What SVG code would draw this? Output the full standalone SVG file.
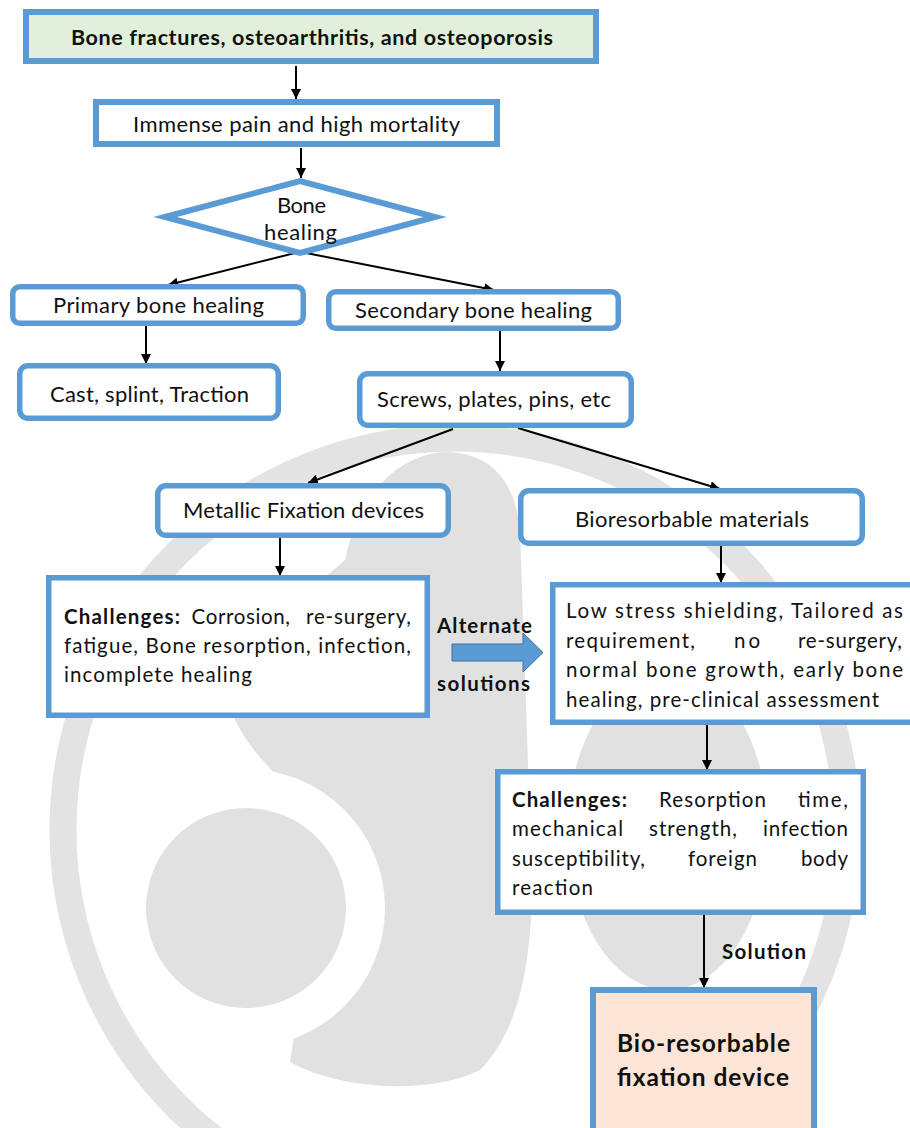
<svg xmlns="http://www.w3.org/2000/svg" width="910" height="1128" viewBox="0 0 910 1128">
<style>
.box{fill:#ffffff;stroke:#5b9bd5;stroke-width:5.5}
.t{font-family:Lato,"Open Sans","Liberation Sans",sans-serif;font-size:22px;fill:#111111}
.p{font-size:20.5px}
.b{font-weight:bold}
.conn line{stroke:#000000;stroke-width:2;marker-end:url(#ah)}
.wm{fill:#e1e1e1}
</style>
<defs>
<marker id="ah" markerUnits="userSpaceOnUse" markerWidth="10" markerHeight="10" refX="10" refY="5" orient="auto">
<path d="M0,0 L10,5 L0,10 Z" fill="#000000"/>
</marker>
</defs>
<rect x="0" y="0" width="910" height="1128" fill="#ffffff"/>
<g id="watermark">
<circle cx="455" cy="830" r="392" fill="none" stroke="#e3e3e3" stroke-width="27"/>
<path class="wm" d="M 345 560 C 360 490, 400 455, 445 452 C 490 452, 515 480, 520 530 L 532 880 C 532 960, 520 1030, 480 1070 C 430 1095, 340 1090, 290 1062 L 300 1000 L 330 820 C 290 790, 255 760, 235 720 C 228 650, 300 600, 345 560 Z"/>
<circle cx="246" cy="908" r="139" fill="#ffffff"/>
<circle class="wm" cx="246" cy="908" r="100"/>
<ellipse class="wm" cx="668" cy="830" rx="100" ry="160"/>
</g>
<g id="connectors" class="conn">
<line x1="296" y1="66" x2="296" y2="99"/>
<line x1="301" y1="148" x2="301" y2="178"/>
<line x1="299" y1="252" x2="168" y2="285"/>
<line x1="301" y1="252" x2="494" y2="290"/>
<line x1="146" y1="326" x2="146" y2="364"/>
<line x1="500" y1="331" x2="500" y2="371"/>
<line x1="453" y1="429" x2="308" y2="483"/>
<line x1="518" y1="428" x2="720" y2="489"/>
<line x1="280" y1="538" x2="280" y2="576"/>
<line x1="721" y1="546" x2="721" y2="583"/>
<line x1="707" y1="725" x2="707" y2="770"/>
<line x1="704" y1="915" x2="704" y2="988"/>
</g>
<g id="alt-arrow">
<polygon points="452,644 523,644 523,633 543,652.5 523,672 523,661 452,661" fill="#5b9bd5" stroke="#41719c" stroke-width="1"/>
<text class="t p b" x="437" y="633" textLength="95">Alternate</text>
<text class="t p b" x="437" y="691" textLength="93">solutions</text>
</g>
<g id="n1">
<rect x="26" y="12" width="570" height="49" fill="#e2efda" stroke="#5b9bd5" stroke-width="6"/>
<text class="t b" style="font-size:21.5px" x="71" y="45" textLength="482">Bone fractures, osteoarthritis, and osteoporosis</text>
</g>
<g id="n2">
<rect x="96" y="102" width="401" height="42" fill="#ffffff" stroke="#5b9bd5" stroke-width="6"/>
<text class="t" x="133" y="131.5" textLength="327">Immense pain and high mortality</text>
</g>
<g id="n3">
<polygon points="165,217 300,181 435,217 300,253" fill="#ffffff" stroke="#5b9bd5" stroke-width="6"/>
<text class="t" x="277" y="213" textLength="49">Bone</text>
<text class="t" x="264" y="240" textLength="73">healing</text>
</g>
<g id="n4">
<rect class="box" x="12.75" y="286.75" width="290.5" height="36.5" rx="7"/>
<text class="t" x="53" y="313" textLength="211">Primary bone healing</text>
</g>
<g id="n5">
<rect class="box" x="328.75" y="291.75" width="289.5" height="36.5" rx="7"/>
<text class="t" x="355" y="318" textLength="237">Secondary bone healing</text>
</g>
<g id="n6">
<rect class="box" x="19.75" y="365.75" width="258.5" height="52.5" rx="8"/>
<text class="t" x="50" y="401.5" textLength="199">Cast, splint, Traction</text>
</g>
<g id="n7">
<rect class="box" x="359.75" y="373.75" width="271.5" height="51.5" rx="8"/>
<text class="t" x="377" y="407" textLength="234">Screws, plates, pins, etc</text>
</g>
<g id="n8">
<rect class="box" x="157.75" y="485.75" width="290.5" height="49.5" rx="8"/>
<text class="t" x="183" y="517.5" textLength="241">Metallic Fixation devices</text>
</g>
<g id="n9">
<rect class="box" x="520.75" y="490.75" width="341.5" height="52.5" rx="8"/>
<text class="t" x="575" y="526.5" textLength="234">Bioresorbable materials</text>
</g>
<g id="n10">
<rect class="box" x="48.75" y="577.75" width="378.5" height="137.5"/>
<text class="t p b" x="64" y="624" textLength="116">Challenges:</text>
<text class="t p" x="191.5" y="624" textLength="98.5">Corrosion,</text>
<text class="t p" x="306" y="624" textLength="105">re-surgery,</text>
<text class="t p" x="64" y="653" textLength="347">fatigue, Bone resorption, infection,</text>
<text class="t p" x="64" y="681.5" textLength="188">incomplete healing</text>
</g>
<g id="n11">
<rect class="box" x="552.75" y="584.75" width="362" height="137.5"/>
<text class="t p" x="566" y="618" textLength="337">Low stress shielding, Tailored as</text>
<text class="t p" x="566" y="647.5" textLength="129">requirement,</text>
<text class="t p" x="734" y="647.5" textLength="26">no</text>
<text class="t p" x="798" y="647.5" textLength="104">re-surgery,</text>
<text class="t p" x="566" y="677" textLength="337">normal bone growth, early bone</text>
<text class="t p" x="566" y="706.5" textLength="313">healing, pre-clinical assessment</text>
</g>
<g id="n12">
<rect class="box" x="497.75" y="771.75" width="365.5" height="140.5"/>
<text class="t p b" x="512" y="807" textLength="115">Challenges:</text>
<text class="t p" x="659" y="807" textLength="107">Resorption</text>
<text class="t p" x="798" y="807" textLength="50">time,</text>
<text class="t p" x="512" y="836" textLength="111">mechanical</text>
<text class="t p" x="649" y="836" textLength="88">strength,</text>
<text class="t p" x="763" y="836" textLength="85">infection</text>
<text class="t p" x="512" y="865.5" textLength="133">susceptibility,</text>
<text class="t p" x="688" y="865.5" textLength="69">foreign</text>
<text class="t p" x="801" y="865.5" textLength="47">body</text>
<text class="t p" x="512" y="895" textLength="81">reaction</text>
</g>
<g id="solution-label">
<text class="t p b" x="722" y="959" textLength="84">Solution</text>
</g>
<g id="n13">
<rect x="593" y="990" width="221" height="150" fill="#fbe5d6" stroke="#5b9bd5" stroke-width="6"/>
<text class="t b" style="font-size:24.5px" x="617" y="1052" textLength="173">Bio-resorbable</text>
<text class="t b" style="font-size:24.5px" x="617" y="1086" textLength="172">fixation device</text>
</g>
</svg>
